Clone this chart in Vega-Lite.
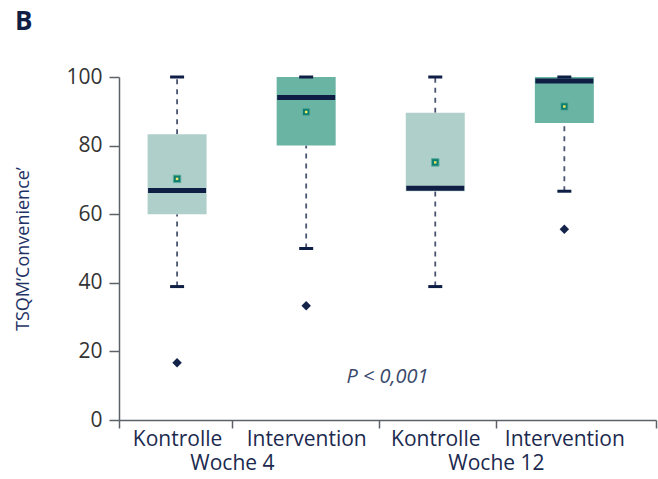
{
  "$schema": "https://vega.github.io/schema/vega-lite/v6.json",
  "width": 537,
  "height": 343,
  "autosize": {"type": "none"},
  "padding": {"left": 119, "top": 77, "right": 2, "bottom": 59},
  "background": "white",
  "config": {
    "font": "Open Sans",
    "view": {"stroke": null}
  },
  "title": {
    "text": "B",
    "anchor": "start",
    "frame": "bounds",
    "fontSize": 26,
    "fontWeight": "bold",
    "color": "#0f1e45",
    "offset": 31
  },
  "data": {
    "values": [
      {"gruppe": "Kontrolle", "woche": "Woche 4", "pos": 1, "min": 38.9, "q1": 60, "median": 66.9, "q3": 83.3, "max": 100, "mean": 70.3, "ausreisser": 16.7},
      {"gruppe": "Intervention", "woche": "Woche 4", "pos": 2, "min": 50, "q1": 80, "median": 94, "q3": 100, "max": 100, "mean": 89.8, "ausreisser": 33.3},
      {"gruppe": "Kontrolle", "woche": "Woche 12", "pos": 3, "min": 38.9, "q1": 66.7, "median": 67.6, "q3": 89.6, "max": 100, "mean": 75.1, "ausreisser": null},
      {"gruppe": "Intervention", "woche": "Woche 12", "pos": 4, "min": 66.7, "q1": 86.6, "median": 98.8, "q3": 100, "max": 100, "mean": 91.4, "ausreisser": 55.6}
    ]
  },
  "encoding": {
    "x": {
      "field": "pos",
      "type": "quantitative",
      "scale": {"domain": [0.55, 4.71], "nice": false, "zero": false, "padding": 0},
      "axis": {
        "title": null,
        "values": [0.55, 1, 1.425, 2, 2.565, 3, 3.47, 4, 4.71],
        "labelExpr": "datum.value == 1 || datum.value == 3 ? 'Kontrolle' : datum.value == 2 || datum.value == 4 ? 'Intervention' : datum.value == 1.425 ? 'Woche 4' : datum.value == 3.47 ? 'Woche 12' : ''",
        "labelOverlap": false,
        "labelBound": false,
        "labelFlush": false,
        "labelFontSize": 21,
        "labelColor": "#1c2a4f",
        "labelPadding": {"condition": {"test": "datum.value == 1.425 || datum.value == 3.47", "value": 24}, "value": 0},
        "grid": false,
        "domainColor": "#5c6068",
        "domainWidth": 1.5,
        "tickColor": "#5c6068",
        "tickWidth": 1.5,
        "tickSize": 8,
        "tickOpacity": {"condition": {"test": "datum.value == 1 || datum.value == 2 || datum.value == 3 || datum.value == 4", "value": 0}, "value": 1}
      }
    }
  },
  "layer": [
    {
      "mark": {"type": "rule", "color": "#4b5572", "strokeWidth": 1.8, "strokeDash": [5, 5]},
      "encoding": {
        "y": {
          "field": "q3",
          "type": "quantitative",
          "scale": {"domain": [0, 100], "nice": false, "padding": 0},
          "axis": {
            "title": "TSQM‘Convenience’",
            "titleFontSize": 18,
            "titleFontWeight": "normal",
            "titleColor": "#1f3366",
            "titlePadding": 33,
            "values": [0, 20, 40, 60, 80, 100],
            "labelFontSize": 21,
            "labelColor": "#333333",
            "labelPadding": 7,
            "grid": false,
            "domainColor": "#5c6068",
            "domainWidth": 1.5,
            "tickColor": "#5c6068",
            "tickWidth": 1.5,
            "tickSize": 10
          }
        },
        "y2": {"field": "max"}
      }
    },
    {
      "mark": {"type": "rule", "color": "#4b5572", "strokeWidth": 1.8, "strokeDash": [5, 5]},
      "encoding": {
        "y": {"field": "min", "type": "quantitative"},
        "y2": {"field": "q1"}
      }
    },
    {
      "mark": {"type": "bar", "width": 59},
      "encoding": {
        "y": {"field": "q1", "type": "quantitative"},
        "y2": {"field": "q3"},
        "color": {
          "field": "gruppe",
          "type": "nominal",
          "scale": {"domain": ["Kontrolle", "Intervention"], "range": ["#afd0ca", "#6ab4a4"]},
          "legend": null
        }
      }
    },
    {
      "mark": {"type": "tick", "orient": "horizontal", "size": 58, "thickness": 5, "color": "#0f1e45", "opacity": 1},
      "encoding": {"y": {"field": "median", "type": "quantitative"}}
    },
    {
      "mark": {"type": "tick", "orient": "horizontal", "size": 14, "thickness": 3, "color": "#0f1e45", "opacity": 1},
      "encoding": {"y": {"field": "max", "type": "quantitative"}}
    },
    {
      "mark": {"type": "tick", "orient": "horizontal", "size": 14, "thickness": 3, "color": "#0f1e45", "opacity": 1},
      "encoding": {"y": {"field": "min", "type": "quantitative"}}
    },
    {
      "mark": {"type": "point", "shape": "square", "filled": true, "size": 56, "color": "#0e7f6e", "stroke": "#5fae9f", "strokeWidth": 1, "opacity": 1},
      "encoding": {"y": {"field": "mean", "type": "quantitative"}}
    },
    {
      "mark": {"type": "point", "shape": "square", "filled": true, "size": 6, "color": "#f3ea6a", "opacity": 1},
      "encoding": {"y": {"field": "mean", "type": "quantitative"}}
    },
    {
      "mark": {"type": "point", "shape": "diamond", "filled": true, "size": 90, "color": "#13234a", "opacity": 1},
      "encoding": {"y": {"field": "ausreisser", "type": "quantitative"}}
    },
    {
      "data": {"values": [{"pos": 2.63, "wert": 12.6, "text": "P < 0,001"}]},
      "mark": {"type": "text", "fontSize": 20, "fontStyle": "italic", "color": "#3b4a6b", "align": "center", "baseline": "middle"},
      "encoding": {
        "y": {"field": "wert", "type": "quantitative"},
        "text": {"field": "text"}
      }
    }
  ]
}
